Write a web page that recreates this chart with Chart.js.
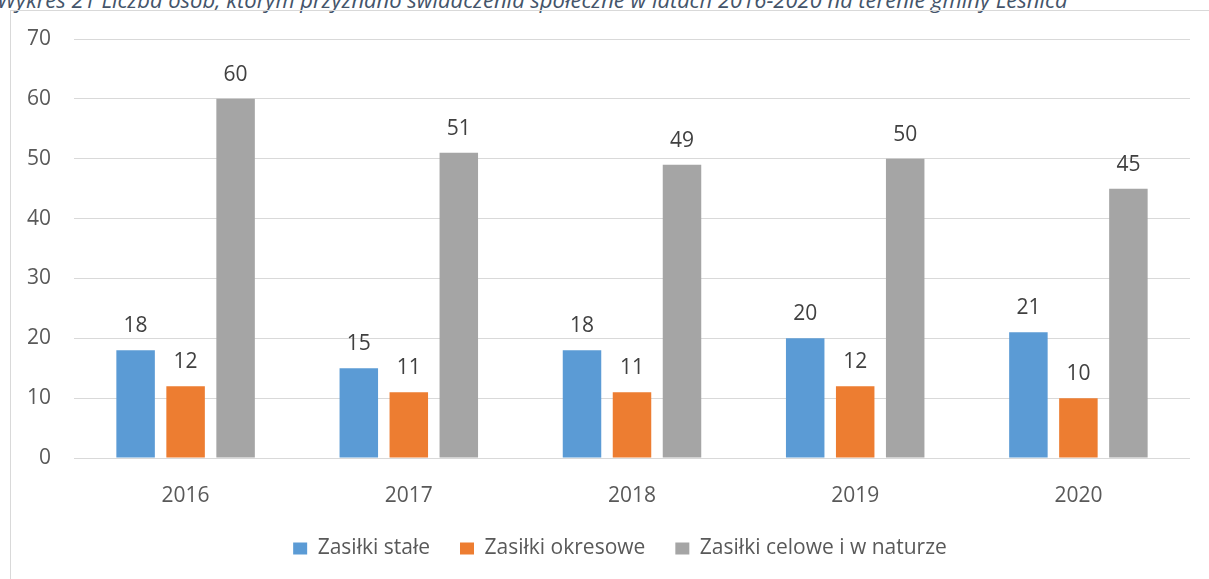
<!DOCTYPE html>
<html>
<head>
<meta charset="utf-8">
<script src="https://cdn.jsdelivr.net/npm/chart.js@4"></script>
<style>
  html, body { margin: 0; padding: 0; background: #fff; overflow: hidden; }
  #wrap { position: relative; width: 1209px; height: 579px; }
  #title {
    position: absolute; left: -3px; top: -12px; white-space: nowrap;
    font: italic 22px/22px "Open Sans", sans-serif; color: #44546a;
  }
  #frame {
    position: absolute; left: 10px; top: 10px; width: 1300px; height: 700px;
    border-left: 1px solid #d9d9d9; border-top: 1px solid #d9d9d9;
  }
  canvas { position: absolute; left: 0; top: 0; }
</style>
</head>
<body>
<div id="wrap">
  <div id="title">Wykres 21 Liczba osób, którym przyznano świadczenia społeczne w latach 2016-2020 na terenie gminy Leśnica</div>
  <div id="frame"></div>
  <canvas id="chart" width="1209" height="579"></canvas>
</div>
<script>
const years = ['2016', '2017', '2018', '2019', '2020'];
const staleValues = [18, 15, 18, 20, 21];
const okresoweValues = [12, 11, 11, 12, 10];
const celoweValues = [60, 51, 49, 50, 45];

const font = '"Open Sans", sans-serif';

// value labels above bars
const barLabels = {
    id: 'barLabels',
    afterDatasetsDraw(chart) {
        const ctx = chart.ctx;
        ctx.save();
        ctx.font = '21px ' + font;
        ctx.fillStyle = '#404040';
        ctx.textAlign = 'center';
        ctx.textBaseline = 'alphabetic';
        chart.data.datasets.forEach((ds, i) => {
            chart.getDatasetMeta(i).data.forEach((bar, j) => {
                ctx.fillText(ds.data[j], bar.x, bar.y - 18);
            });
        });
        ctx.restore();
    }
};

// legend in the original sits a bit left of the plot centre
const legendShift = {
    id: 'legendShift',
    afterLayout(chart) {
        chart.legend.left -= 12;
        chart.legend.right -= 12;
    }
};

const data = {
    labels: years,
    datasets: [{
        label: 'Zasiłki stałe',
        backgroundColor: '#5b9bd5',
        data: staleValues
    }, {
        label: 'Zasiłki okresowe',
        backgroundColor: '#ed7d31',
        data: okresoweValues
    }, {
        label: 'Zasiłki celowe i w naturze',
        backgroundColor: '#a5a5a5',
        data: celoweValues
    }]
};

const config = {
    type: 'bar',
    data,
    plugins: [barLabels, legendShift],
    options: {
        responsive: false,
        animation: false,
        categoryPercentage: 0.672,
        barPercentage: 0.77,
        layout: {
            padding: { left: 0, right: 19, top: 39, bottom: 10 }
        },
        plugins: {
            tooltip: { enabled: false },
            legend: {
                position: 'bottom',
                fullSize: false,
                labels: {
                    boxWidth: 14,
                    boxHeight: 12,
                    padding: 30,
                    color: '#595959',
                    font: { family: font, size: 21 }
                }
            }
        },
        scales: {
            x: {
                grid: { display: false, drawTicks: false },
                border: { display: false },
                ticks: {
                    padding: 25,
                    color: '#595959',
                    font: { family: font, size: 21 }
                },
                afterFit(scale) { scale.height = 50; }
            },
            y: {
                min: 0,
                max: 70,
                ticks: {
                    stepSize: 10,
                    padding: 23,
                    color: '#595959',
                    font: { family: font, size: 21 }
                },
                grid: { color: '#d9d9d9', lineWidth: 1, drawTicks: false },
                border: { display: false },
                afterFit(scale) { scale.width = 74; }
            }
        }
    }
};

new Chart(document.getElementById('chart'), config);
</script>
</body>
</html>
